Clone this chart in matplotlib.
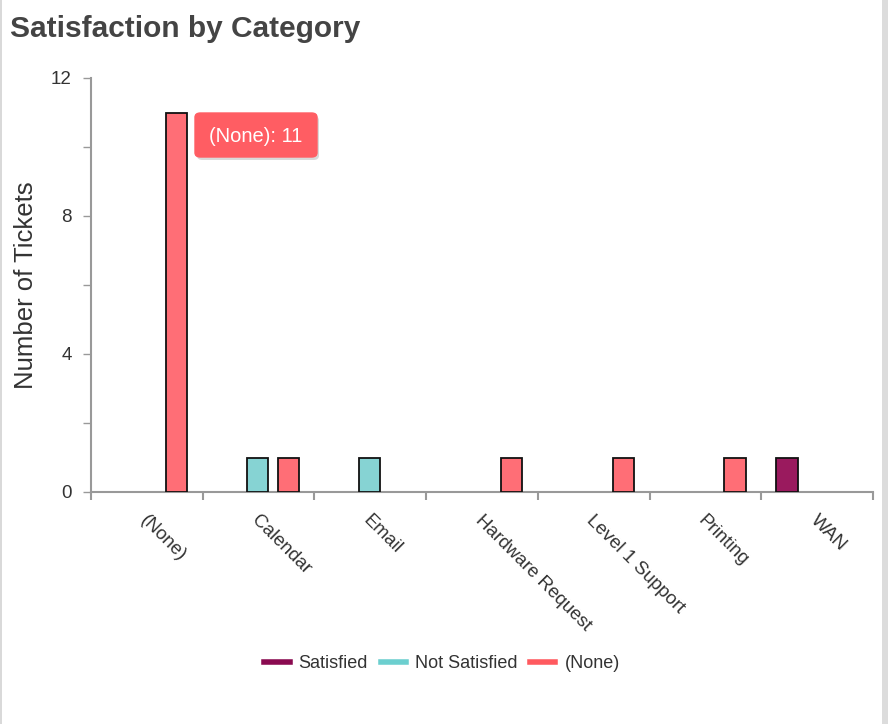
import numpy as np
import matplotlib as mpl
mpl.use('Agg')
import matplotlib.pyplot as plt
from matplotlib.patches import FancyBboxPatch, Rectangle
from matplotlib.lines import Line2D

categories = ["(None)", "Calendar", "Email", "Hardware Request", "Level 1 Support", "Printing", "WAN"]
series = ["Satisfied", "Not Satisfied", "(None)"]
satisfied = [0, 0, 0, 0, 0, 0, 1]
not_satisfied = [0, 1, 1, 0, 0, 0, 0]
none_vals = [11, 1, 0, 1, 1, 1, 0]
values = [satisfied, not_satisfied, none_vals]
bar_colors = ["#9a1a5e", "#86d3d3", "#ff6e76"]
legend_colors = ["#8a0a50", "#6ccfcf", "#ff5a5f"]
tooltip_text = "(None): 11"

plt.rcParams['font.family'] = ['Liberation Sans', 'DejaVu Sans']

fig = plt.figure(figsize=(8.88, 7.24), dpi=100)
W, H = 888, 724
ax = fig.add_axes([91 / W, 1 - 492 / H, (873 - 91) / W, (492 - 78) / H])

x = np.arange(len(categories))
offsets = [-0.27, -0.01, 0.265]
width = 0.19
for vals, off, col in zip(values, offsets, bar_colors):
    for xi, v in zip(x, vals):
        if v > 0:
            ax.bar(xi + off, v, width=width, color=col, edgecolor='#111111', linewidth=1.3, zorder=3)

ax.set_xlim(-0.5, len(categories) - 0.5)
ax.set_ylim(0, 12)
ax.set_yticks(np.arange(0, 13, 2))
ax.set_yticklabels([str(v) if v % 4 == 0 else "" for v in range(0, 13, 2)])
ax.set_xticks(np.arange(-0.5, len(categories), 1.0))
ax.set_xticklabels([])
for xi, lab in zip(x, categories):
    ax.text(xi - 0.04, -0.75, lab, rotation=-45, ha='left', va='center', rotation_mode='anchor',
            fontsize=13.5, color='#333333', transform=ax.transData)

for s in ['top', 'right']:
    ax.spines[s].set_visible(False)
for s in ['left', 'bottom']:
    ax.spines[s].set_color('#999999')
    ax.spines[s].set_linewidth(1.5)
ax.tick_params(axis='y', length=6, color='#999999', width=1, labelsize=13.5, labelcolor='#333333', pad=8)
ax.tick_params(axis='x', length=6, color='#999999', width=1.5)
ax.set_ylabel("Number of Tickets", fontsize=18.5, color='#333333', labelpad=9)

# tooltip
tip = FancyBboxPatch((195 / W, 1 - 157 / H), 122 / W, 44 / H, boxstyle="round,pad=0,rounding_size=0.006",
                     transform=fig.transFigure, facecolor='#ff5d63', edgecolor='#ff5d63', zorder=10)
shadow = FancyBboxPatch((197 / W, 1 - 160 / H), 122 / W, 44 / H, boxstyle="round,pad=0,rounding_size=0.006",
                        transform=fig.transFigure, facecolor='#000000', alpha=0.15, edgecolor='none', zorder=9)
fig.patches.extend([shadow, tip])
fig.text(256 / W, 1 - 136 / H, tooltip_text, ha='center', va='center', fontsize=14.5, color='white', zorder=11)

# title
fig.text(10 / W, 1 - 29 / H, "Satisfaction by Category", fontsize=21.5, fontweight='bold', color='#444444',
         ha='left', va='center')

# panel borders
fig.patches.append(Rectangle((0, 0), 2 / W, 1, transform=fig.transFigure, facecolor='#d9d9d9', edgecolor='none'))
fig.patches.append(Rectangle((882 / W, 0), 6 / W, 1, transform=fig.transFigure, facecolor='#dcdcdc', edgecolor='none'))

handles = [Line2D([0], [0], color=c, linewidth=4) for c in legend_colors]
fig.legend(handles, series, loc='center', bbox_to_anchor=(442 / W, 1 - 664 / H), ncol=3, frameon=False,
           fontsize=13, handlelength=1.4, handletextpad=0.5, columnspacing=0.7, labelcolor='#333333')

plt.savefig("out.png", dpi=100)
